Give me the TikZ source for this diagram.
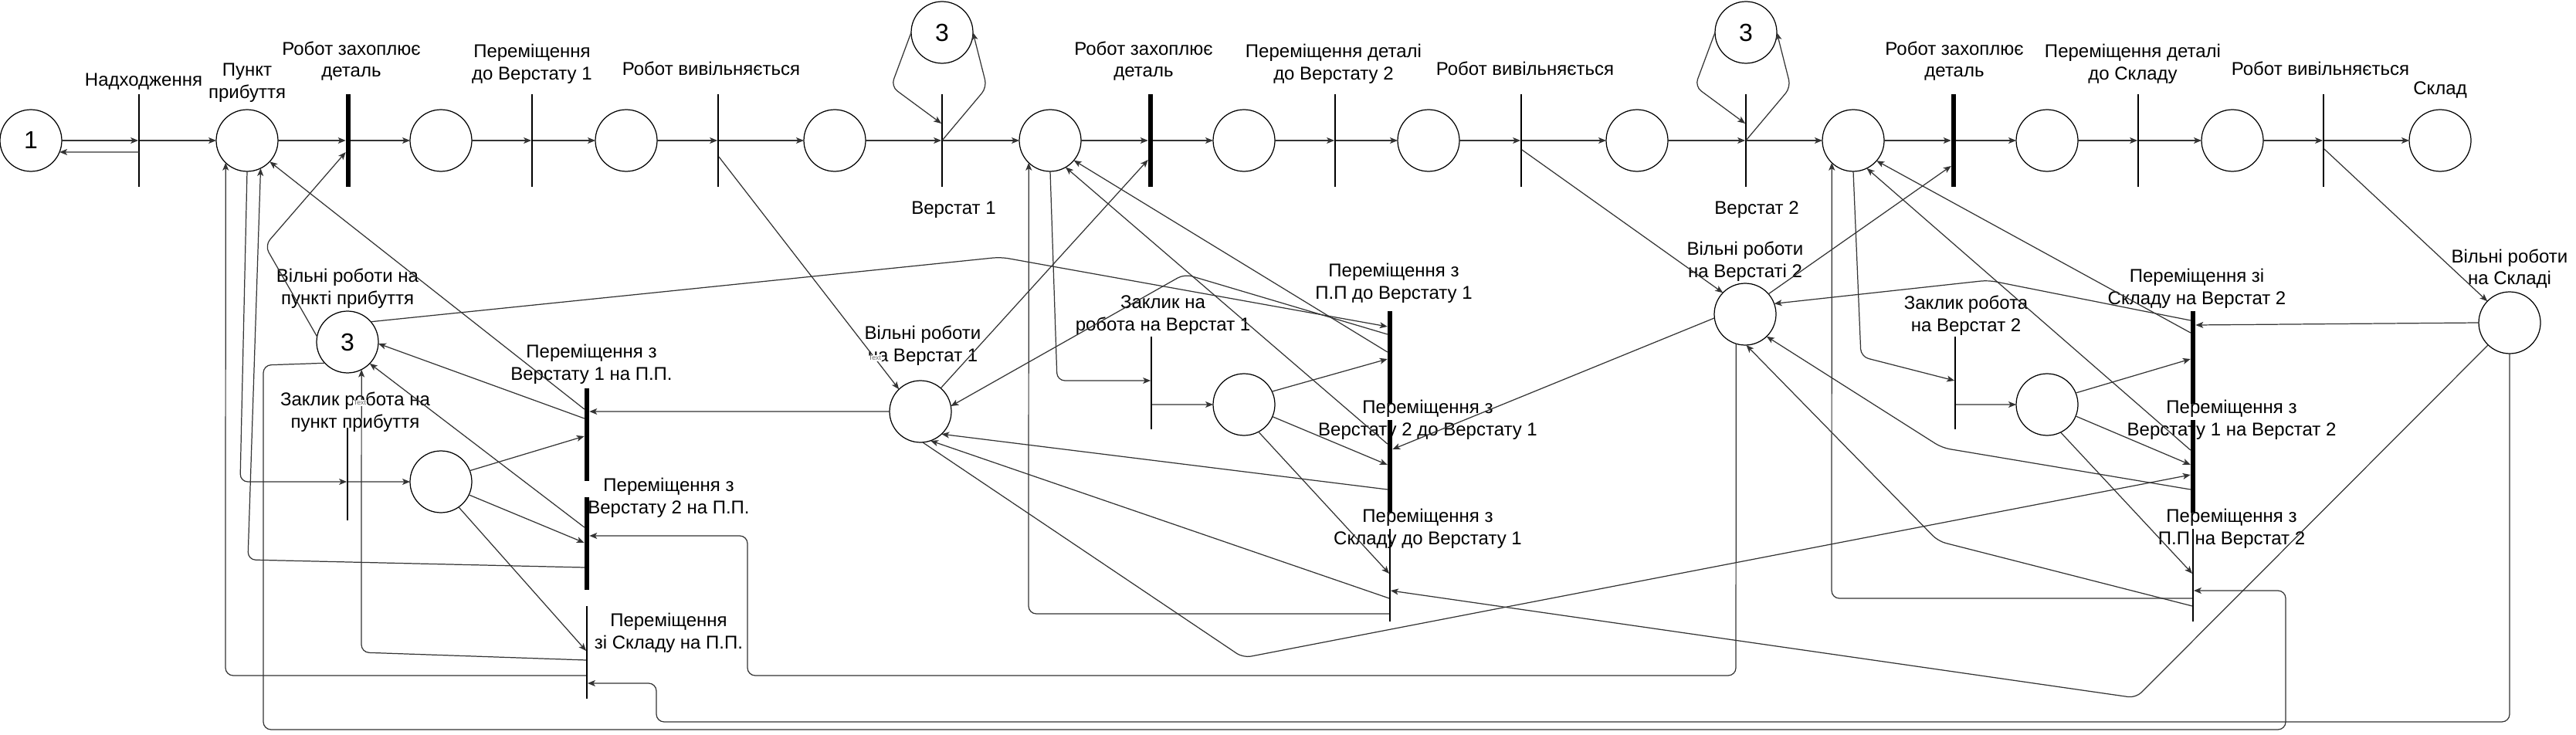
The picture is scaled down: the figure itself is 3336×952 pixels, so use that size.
\documentclass[tikz,border=0pt]{standalone}
\usepackage{fontspec}
\setmainfont{Liberation Sans}
\usetikzlibrary{arrows.meta,calc}
\begin{document}
\begin{tikzpicture}[x=0.02cm,y=-0.02cm,
  place/.style={circle,draw=black,line width=0.7pt,minimum size=1.6cm,inner sep=0pt,outer sep=0pt},
  tthin/.style={fill=black,minimum width=0.035cm,minimum height=2.4cm,inner sep=0pt,outer sep=0pt},
  tthick/.style={fill=black,minimum width=0.13cm,minimum height=2.4cm,inner sep=0pt,outer sep=0pt},
  lbl/.style={align=center,inner sep=0pt,font=\fontsize{13.66pt}{16.3pt}\selectfont},
  numfont/.style={font=\fontsize{18.2pt}{20pt}\selectfont},
  conn/.style={draw=black!80,line width=0.7pt,-{Stealth[length=0.2cm,width=0.16cm,inset=0.05cm]}},
  rc/.style={rounded corners=0.2cm},
  textart/.style={fill=white,inner sep=0.5pt,font=\fontsize{5pt}{6pt}\selectfont,text=black!60}
]
\useasboundingbox (0,0) rectangle (3336,952);

% ---------- top row ----------
\node[place,numfont] (P1) at (40,182) {1};
\node[tthin] (T0) at (180,182) {};
\node[place] (PP) at (320,182) {};
\node[tthick] (T1) at (451,182) {};
\node[place] (P2) at (571,182) {};
\node[tthin] (T2) at (689,182) {};
\node[place] (P3) at (811,182) {};
\node[tthin] (T3) at (930,182) {};
\node[place] (P4) at (1081,182) {};
\node[tthin] (T4) at (1220,182) {};
\node[place] (P5) at (1360,182) {};
\node[tthick] (T5) at (1490,182) {};
\node[place] (P6) at (1611,182) {};
\node[tthin] (T6) at (1729,182) {};
\node[place] (P7) at (1850,182) {};
\node[tthin] (T7) at (1970,182) {};
\node[place] (P8) at (2120,182) {};
\node[tthin] (T8) at (2261,182) {};
\node[place] (P9) at (2400,182) {};
\node[tthick] (T9) at (2530,182) {};
\node[place] (P10) at (2651,182) {};
\node[tthin] (T10) at (2769,182) {};
\node[place] (P11) at (2891,182) {};
\node[tthin] (T11) at (3009,182) {};
\node[place] (S) at (3160,182) {};
\node[place,numfont] (K1) at (1220,42) {3};
\node[place,numfont] (K2) at (2261,42) {3};

% ---------- lower nodes ----------
\node[place,numfont] (R0) at (450,443) {3};
\node[place] (C0) at (571,624) {};
\node[tthin] (Tz0) at (450,614) {};
\node[tthick] (Tb1) at (760,563) {};
\node[tthick] (Tb2) at (760,704) {};
\node[tthin] (Tb3) at (760,845) {};
\node[place] (R1) at (1192,533) {};
\node[place] (C1) at (1611,524) {};
\node[tthin] (Tz1) at (1491,496) {};
\node[tthick] (Tc1) at (1800,463) {};
\node[tthick] (Tc2) at (1800,604) {};
\node[tthin] (Tc3) at (1800,745) {};
\node[place] (R2) at (2260,407) {};
\node[place] (C2) at (2651,524) {};
\node[tthin] (Tz2) at (2532,496) {};
\node[tthick] (Td1) at (2840,463) {};
\node[tthick] (Td2) at (2840,604) {};
\node[tthin] (Td3) at (2840,745) {};
\node[place] (R3) at (3250,418) {};

% ---------- labels ----------
\node[lbl] (L0) at (186,106) {Надходження};
\node[lbl] (L1) at (320,107) {Пункт\\прибуття};
\node[lbl] (L2) at (455,79) {Робот захоплює\\деталь};
\node[lbl] (L3) at (689,83) {Переміщення\\до Верстату 1};
\node[lbl] (L4) at (921,89) {Робот вивільняється};
\node[lbl] (L5) at (1235,272) {Верстат 1};
\node[lbl] (L6) at (1481,79) {Робот захоплює\\деталь};
\node[lbl] (L7) at (1727,83) {Переміщення деталі\\до Верстату 2};
\node[lbl] (L8) at (1975,89) {Робот вивільняється};
\node[lbl] (L9) at (2275,272) {Верстат 2};
\node[lbl] (L10) at (2531,79) {Робот захоплює\\деталь};
\node[lbl] (L11) at (2762,83) {Переміщення деталі\\до Складу};
\node[lbl] (L12) at (3005,89) {Робот вивільняється};
\node[lbl] (L13) at (3160,117) {Склад};

\node[lbl] (M0) at (450,374) {Вільні роботи на\\пункті прибуття};
\node[lbl] (M1) at (460,534) {Заклик робота на\\пункт прибуття};
\node[lbl] (M2) at (766,472) {Переміщення з\\Верстату 1 на П.П.};
\node[lbl] (M3) at (866,645) {Переміщення з\\Верстату 2 на П.П.};
\node[lbl] (M4) at (866,820) {Переміщення\\зі Складу на П.П.};
\node[lbl] (M5) at (1195,448) {Вільні роботи\\на Верстат 1};
\node[lbl] (M6) at (1506,408) {Заклик на\\робота на Верстат 1};
\node[lbl] (M7) at (1805,367) {Переміщення з\\П.П до Верстату 1};
\node[lbl] (M8) at (1849,544) {Переміщення з\\Верстату 2 до Верстату 1};
\node[lbl] (M9) at (1849,685) {Переміщення з\\Складу до Верстату 1};
\node[lbl] (M10) at (2260,339) {Вільні роботи\\на Верстаті 2};
\node[lbl] (M11) at (2546,409) {Заклик робота\\на Верстат 2};
\node[lbl] (M12) at (2845,374) {Переміщення зі\\Складу на Верстат 2};
\node[lbl] (M13) at (2890,544) {Переміщення з\\Верстату 1 на Верстат 2};
\node[lbl] (M14) at (2890,685) {Переміщення з\\П.П на Верстат 2};
\node[lbl] (M15) at (3250,348) {Вільні роботи\\на Складі};

% ---------- top row connectors ----------
\draw[conn] (P1) -- (T0);
\draw[conn] ([yshift=-0.3cm]T0.center) -- (P1.-22);
\foreach \a/\b in {T0/PP,PP/T1,T1/P2,P2/T2,T2/P3,P3/T3,T3/P4,P4/T4,T4/P5,P5/T5,T5/P6,P6/T6,T6/P7,P7/T7,T7/P8,P8/T8,T8/P9,P9/T9,T9/P10,P10/T10,T10/P11,P11/T11,T11/S}
  \draw[conn] (\a) -- (\b);

\draw[conn,rc] (K1.west) -- (1154,112) -- ([yshift=-0.76cm]T4.north west);
\draw[conn,rc] (T4.center) -- (1278,113) -- (K1.east);
\draw[conn,rc] (K2.west) -- (2195,112) -- ([yshift=-0.76cm]T8.north west);
\draw[conn,rc] (T8.center) -- (2319,113) -- (K2.east);

% ---------- arrival point group ----------
\draw[conn,rc] (PP.south) -- (311,624) -- ([yshift=-1.4cm]Tz0.north west);
\draw[conn] ([yshift=-1.4cm]Tz0.north east) -- (C0.west);
\draw[conn] (C0.21) -- ([yshift=-1.24cm]Tb1.north west);
\draw[conn] (C0.-25) -- ([yshift=-1.18cm]Tb2.north west);
\draw[conn] (C0.-55) -- ([yshift=-1.16cm]Tb3.north west);
\draw[conn] (R1.west) -- ([yshift=-0.6cm]Tb1.north east);
\draw[conn,rc] (R2.-107) -- (2248,875) -- (968,875) -- (968,694) -- ([yshift=-1.0cm]Tb2.north east);
\draw[conn,rc] (R3.south) -- (3250,935) -- (850,935) -- (850,885) -- ([yshift=-2.0cm]Tb3.north east);
\draw[conn] ([yshift=-0.54cm]Tb1.north west) -- (PP.-43);
\draw[conn] ([yshift=-0.78cm]Tb1.north west) -- (R0.-3);
\draw[conn,rc] ([yshift=-1.82cm]Tb2.north west) -- (321,725) -- (PP.-64);
\draw[conn] ([yshift=-0.78cm]Tb2.north west) -- (R0.-44);
\draw[conn,rc] ([yshift=-1.8cm]Tb3.north west) -- (292,875) -- (PP.-134);
\draw[conn,rc] ([yshift=-1.4cm]Tb3.north west) -- (468,845) -- (R0.-63);
\draw[conn,rc] (R0.170) -- (343,318) -- ([yshift=-1.5cm]T1.north west);
\draw[conn,rc] (R0.-137) -- (341,473) -- (341,945) -- (2960,945) -- (2960,765) -- ([yshift=-1.6cm]Td3.north east);
\draw[conn,rc] (R0.41) -- (1296,333) -- ([yshift=-0.4cm]Tc1.north west);

% ---------- machine 1 group ----------
\draw[conn] ([yshift=-1.62cm]T3.north east) -- (R1.134);
\draw[conn] (R1.49) -- ([yshift=-1.7cm]T5.north west);
\draw[conn,rc] (P5.south) -- (1369,493) -- ([yshift=-1.14cm]Tz1.north west);
\draw[conn] ([yshift=-1.76cm]Tz1.north east) -- (C1.west);
\draw[conn] (C1.25) -- ([yshift=-1.24cm]Tc1.north west);
\draw[conn] (C1.-23) -- ([yshift=-1.16cm]Tc2.north west);
\draw[conn] (C1.-62) -- ([yshift=-1.16cm]Tc3.north west);
\draw[conn] (R2.187) -- ([yshift=-0.76cm]Tc2.north east);
\draw[conn,rc] (R3.-134) -- (2766,904) -- ([yshift=-1.6cm]Tc3.north east);
\draw[conn,rc] ([yshift=-0.6cm]Tc1.north west) -- (1534,355) -- (R1.10);
\draw[conn] ([yshift=-1.8cm]Tc2.north west) -- (R1.-47);
\draw[conn] ([yshift=-1.8cm]Tc3.north west) -- (R1.-71);
\draw[conn] ([yshift=-1.06cm]Tc1.north west) -- (P5.-40);
\draw[conn] ([yshift=-0.62cm]Tc2.north west) -- (P5.-60);
\draw[conn,rc] ([yshift=-2.2cm]Tc3.north west) -- (1332,795) -- (P5.-134);
\draw[conn,rc] (R1.-86) -- (1610,852) -- ([yshift=-1.42cm]Td2.north west);

% ---------- machine 2 group ----------
\draw[conn] ([yshift=-1.44cm]T7.north east) -- (R2.136);
\draw[conn] (R2.41) -- ([yshift=-1.86cm]T9.north west);
\draw[conn,rc] (P9.south) -- (2410,462) -- ([yshift=-1.14cm]Tz2.north west);
\draw[conn] ([yshift=-1.76cm]Tz2.north east) -- (C2.west);
\draw[conn] (C2.22) -- ([yshift=-1.24cm]Td1.north west);
\draw[conn] (C2.-22) -- ([yshift=-1.16cm]Td2.north west);
\draw[conn] (C2.-64) -- ([yshift=-1.16cm]Td3.north west);
\draw[conn] (R3.west) -- ([yshift=-0.36cm]Td1.north east);
\draw[conn] ([yshift=-0.56cm]Td1.north west) -- (P9.-41);
\draw[conn] ([yshift=-0.78cm]Td2.north west) -- (P9.-64);
\draw[conn,rc] ([yshift=-1.8cm]Td3.north west) -- (2372,775) -- (P9.-134);
\draw[conn,rc] ([yshift=-0.24cm]Td1.north west) -- (2575,363) -- (R2.20);
\draw[conn,rc] ([yshift=-1.8cm]Td2.north west) -- (2515,580) -- (R2.-46);
\draw[conn,rc] ([yshift=-2.0cm]Td3.north west) -- (2510,701) -- (R2.-88);
\draw[conn] ([yshift=-1.42cm]T11.north east) -- (R3.136);

% ---------- small leftover text marks ----------
\node[textart] (A1) at (466,522) {Text};
\node[textart] (A2) at (1133,464) {Text};
\end{tikzpicture}
\end{document}
